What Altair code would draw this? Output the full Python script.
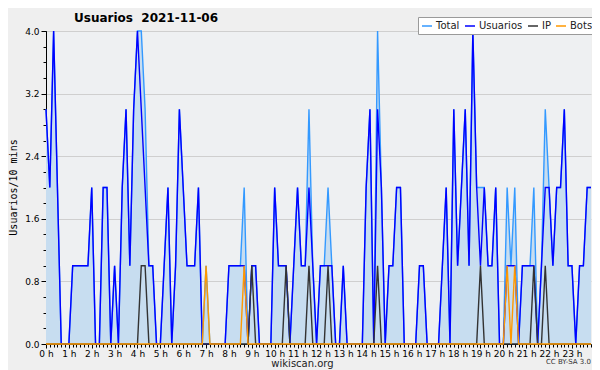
import altair as alt
import pandas as pd

series = ["Total", "Usuarios", "IP", "Bots"]
colors = ["#3399ff", "#0000ff", "#333333", "#ff9900"]

# one value per 10 minutes, 00:00 .. 23:50
usuarios = [
    3, 2, 4, 2, 0, 0, 0, 1, 1, 1, 1, 1,
    2, 0, 0, 2, 2, 0, 1, 0, 2, 3, 1, 3,
    4, 3, 2, 1, 1, 0, 0, 1, 2, 0, 1, 3,
    2, 1, 1, 1, 2, 0, 0, 0, 0, 0, 0, 0,
    1, 1, 1, 1, 1, 0, 1, 1, 0, 0, 0, 0,
    2, 1, 1, 1, 0, 1, 2, 1, 1, 2, 1, 0,
    1, 1, 1, 1, 0, 0, 1, 0, 0, 0, 0, 0,
    2, 3, 0, 3, 2, 0, 1, 1, 2, 2, 0, 0,
    0, 0, 1, 1, 0, 0, 0, 0, 1, 2, 0, 3,
    1, 2, 3, 1, 4, 2, 1, 2, 1, 1, 2, 0,
    0, 1, 1, 1, 0, 1, 1, 1, 1, 0, 1, 2,
    2, 1, 2, 2, 3, 1, 1, 0, 1, 1, 2, 2,
]
total = [
    3, 2, 4, 2, 0, 0, 0, 1, 1, 1, 1, 1,
    2, 0, 0, 2, 2, 0, 1, 0, 2, 3, 1, 3,
    4, 4, 3, 1, 1, 0, 0, 1, 2, 0, 1, 3,
    2, 1, 1, 1, 2, 0, 1, 0, 0, 0, 0, 0,
    1, 1, 1, 1, 2, 0, 1, 1, 0, 0, 0, 0,
    2, 1, 1, 1, 0, 1, 2, 1, 1, 3, 1, 0,
    1, 1, 2, 1, 0, 0, 1, 0, 0, 0, 0, 0,
    2, 3, 0, 4, 2, 0, 1, 1, 2, 2, 0, 0,
    0, 0, 1, 1, 0, 0, 0, 0, 1, 2, 0, 3,
    1, 2, 3, 1, 4, 2, 2, 2, 1, 1, 2, 0,
    0, 2, 1, 2, 0, 1, 1, 1, 2, 0, 1, 3,
    2, 1, 2, 2, 3, 1, 1, 0, 1, 1, 2, 2,
]
ip = [
    0, 0, 0, 0, 0, 0, 0, 0, 0, 0, 0, 0,
    0, 0, 0, 0, 0, 0, 0, 0, 0, 0, 0, 0,
    0, 1, 1, 0, 0, 0, 0, 0, 0, 0, 0, 0,
    0, 0, 0, 0, 0, 0, 0, 0, 0, 0, 0, 0,
    0, 0, 0, 0, 0, 0, 1, 0, 0, 0, 0, 0,
    0, 0, 0, 1, 0, 0, 0, 0, 0, 1, 0, 0,
    0, 0, 1, 0, 0, 0, 0, 0, 0, 0, 0, 0,
    0, 0, 0, 1, 0, 0, 0, 0, 0, 0, 0, 0,
    0, 0, 0, 0, 0, 0, 0, 0, 0, 0, 0, 0,
    0, 0, 0, 0, 0, 0, 1, 0, 0, 0, 0, 0,
    0, 0, 0, 0, 0, 0, 0, 0, 1, 0, 0, 1,
    0, 0, 0, 0, 0, 0, 0, 0, 0, 0, 0, 0,
]
bots = [
    0, 0, 0, 0, 0, 0, 0, 0, 0, 0, 0, 0,
    0, 0, 0, 0, 0, 0, 0, 0, 0, 0, 0, 0,
    0, 0, 0, 0, 0, 0, 0, 0, 0, 0, 0, 0,
    0, 0, 0, 0, 0, 0, 1, 0, 0, 0, 0, 0,
    0, 0, 0, 0, 1, 0, 0, 0, 0, 0, 0, 0,
    0, 0, 0, 0, 0, 0, 0, 0, 0, 0, 0, 0,
    0, 0, 0, 0, 0, 0, 0, 0, 0, 0, 0, 0,
    0, 0, 0, 0, 0, 0, 0, 0, 0, 0, 0, 0,
    0, 0, 0, 0, 0, 0, 0, 0, 0, 0, 0, 0,
    0, 0, 0, 0, 0, 0, 0, 0, 0, 0, 0, 0,
    0, 1, 0, 1, 0, 0, 0, 0, 0, 0, 0, 0,
    0, 0, 0, 0, 0, 0, 0, 0, 0, 0, 0, 0,
]
hour_ticks = list(range(0, 144, 6))
minor_x = list(range(0, 144))
y_ticks = [0.0, 0.8, 1.6, 2.4, 3.2, 4.0]
y_minor = [round(0.2 * k, 1) for k in range(21)]

rows = []
for name, vals in zip(series, [total, usuarios, ip, bots]):
    for i, v in enumerate(vals):
        rows.append({"t": i, "serie": name, "v": v})
df = pd.DataFrame(rows)

FONT = "DejaVu Sans"
xscale = alt.Scale(domain=[0, 143], nice=False, zero=False)
yscale = alt.Scale(domain=[0, 4], nice=False)

x_major = alt.Axis(values=hour_ticks, labelExpr="floor(datum.value/6) + ' h'",
                   grid=False, tickSize=4, tickColor="black", domainColor="black",
                   labelColor="black", labelFontSize=9, labelFont=FONT, labelFlush=False,
                   labelPadding=1, orient="bottom",
                   title="wikiscan.org", titleFont=FONT, titleFontSize=10,
                   titleFontWeight="normal", titleColor="#222222",
                   titleX=256, titleY=22, titleBaseline="alphabetic", titleAlign="center")
x_minor = alt.Axis(values=minor_x, labels=False, grid=False, tickSize=3,
                   tickColor="black", domain=False, title=None, orient="bottom")
y_major = alt.Axis(values=y_ticks, format=".1f", grid=True, gridColor="#cfcfcf",
                   tickSize=5, tickColor="black", domainColor="black",
                   labelColor="black", labelFontSize=9, labelFont=FONT, labelPadding=2,
                   orient="left",
                   title="Usuarios/10 mins", titleFont="DejaVu Sans Mono",
                   titleFontSize=10, titleFontWeight="normal", titleColor="black",
                   titleX=-33, titleY=156, titleAlign="center",
                   titleBaseline="middle")
y_minor_ax = alt.Axis(values=y_minor, labels=False, grid=False, tickSize=3,
                      tickColor="black", domain=False, title=None, orient="left")

legend = alt.Legend(title=None, orient="none", legendX=372, legendY=-14,
                    direction="horizontal", columns=4, symbolType="stroke",
                    symbolStrokeWidth=1.5, symbolSize=100, labelFont=FONT,
                    labelFontSize=10, labelColor="#222222", labelOffset=3,
                    columnPadding=2, padding=3, strokeColor="#9a9a9a",
                    fillColor="white")
color = alt.Color("serie:N", scale=alt.Scale(domain=series, range=colors),
                  legend=legend)

base = alt.Chart(df)

area = base.transform_filter(alt.datum.serie == "Total").mark_area(
    color="#c7ddf0", opacity=1).encode(
    x=alt.X("t:Q", scale=xscale, axis=x_minor),
    y=alt.Y("v:Q", scale=yscale, axis=y_minor_ax))

def line(name, axes):
    xa = alt.X("t:Q", scale=xscale, axis=x_major if axes else None)
    ya = alt.Y("v:Q", scale=yscale, axis=y_major if axes else None)
    return base.transform_filter(alt.datum.serie == name).mark_line(
        strokeWidth=1.4).encode(x=xa, y=ya, color=color)

lines = [line("Total", True), line("Usuarios", False), line("IP", False), line("Bots", False)]

cc = alt.Chart(pd.DataFrame({"s": ["CC BY-SA 3.0"]})).mark_text(
    align="right", baseline="alphabetic", fontSize=7, font=FONT, color="#333333").encode(
    text="s:N", x=alt.value(545), y=alt.value(333))

chart = alt.layer(area, *lines, cc).resolve_axis(
    x="independent", y="independent").properties(
    width=545, height=313,
    padding={"left": 38, "top": 23, "right": 1, "bottom": 26},
    autosize=alt.AutoSizeParams(type="none"),
    background="#efefef",
    title=alt.TitleParams("Usuarios\u00a0 2021-11-06", anchor="start", dx=66,
                          dy=16, offset=8, font=FONT, fontSize=12, fontWeight="bold",
                          color="black"),
).configure_view(fill="#eef0f2", stroke=None)

chart.save("out.html", embed_options={"renderer": "svg", "actions": False})
